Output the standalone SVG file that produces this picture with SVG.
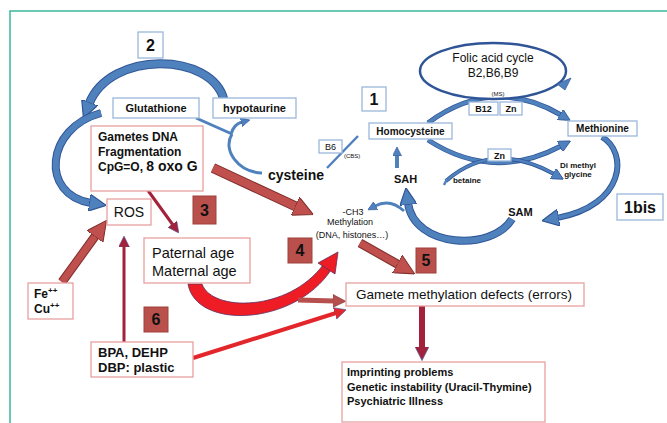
<svg xmlns="http://www.w3.org/2000/svg" width="667" height="423" viewBox="0 0 667 423">
<style>
text{font-family:"Liberation Sans",Arial,sans-serif;fill:#111}
.bb{fill:#fff;stroke:#9ab7da;stroke-width:1.3}
.rb{fill:#fff;stroke:#e8a0a0;stroke-width:1.3}
.nb{fill:#b9504b;stroke:#a0403c;stroke-width:1}
.num{font-size:16px;font-weight:bold;text-anchor:middle}
.c{text-anchor:middle}
.b{font-weight:bold}
.bo{fill:none;stroke:#2f5597;stroke-linecap:butt}
.bi{fill:none;stroke:#4f81bd;stroke-linecap:butt}
.ro{fill:none;stroke:#7e2e2c}
.ri{fill:none;stroke:#c0504d}
</style>
<defs>
<marker id="mbl" viewBox="0 0 10 10" refX="1" refY="5" markerWidth="17" markerHeight="17" markerUnits="userSpaceOnUse" orient="auto"><path d="M0,0 L10,5 L0,10 z" fill="#4f81bd" stroke="#2f5597" stroke-width="0.7"/></marker>
<marker id="mbm" viewBox="0 0 10 10" refX="1" refY="5" markerWidth="12" markerHeight="12" markerUnits="userSpaceOnUse" orient="auto"><path d="M0,0 L10,5 L0,10 z" fill="#4f81bd" stroke="#2f5597" stroke-width="0.7"/></marker>
<marker id="mbs" viewBox="0 0 10 10" refX="1" refY="5" markerWidth="9" markerHeight="9" markerUnits="userSpaceOnUse" orient="auto"><path d="M0,0 L10,5 L0,10 z" fill="#4f81bd" stroke="#2f5597" stroke-width="0.7"/></marker>
<marker id="mrl" viewBox="0 0 10 10" refX="1" refY="5" markerWidth="20" markerHeight="20" markerUnits="userSpaceOnUse" orient="auto"><path d="M0,0 L10,5 L0,10 z" fill="#c0504d" stroke="#7e2e2c" stroke-width="0.5"/></marker>
<marker id="mrm" viewBox="0 0 10 10" refX="1" refY="5" markerWidth="13" markerHeight="13" markerUnits="userSpaceOnUse" orient="auto"><path d="M0,0 L10,5 L0,10 z" fill="#b5504f" stroke="#7e2e2c" stroke-width="0.5"/></marker>
<marker id="mdk" viewBox="0 0 10 10" refX="1" refY="5" markerWidth="11" markerHeight="11" markerUnits="userSpaceOnUse" orient="auto-start-reverse"><path d="M0,0 L10,5 L0,10 z" fill="#a3213a" stroke="#4a5a9a" stroke-width="0.5"/></marker>
<marker id="mdk2" viewBox="0 0 10 10" refX="1" refY="5" markerWidth="14" markerHeight="14" markerUnits="userSpaceOnUse" orient="auto"><path d="M0,0 L10,5 L0,10 z" fill="#a3213a" stroke="#4a5a9a" stroke-width="0.5"/></marker>
<marker id="mbr" viewBox="0 0 10 10" refX="1" refY="5" markerWidth="12" markerHeight="12" markerUnits="userSpaceOnUse" orient="auto"><path d="M0,0 L10,5 L0,10 z" fill="#e3262b" stroke="#4a5a9a" stroke-width="0.5"/></marker>
</defs>

<path d="M10,423 V11 H667" fill="none" stroke="#3bb79b" stroke-width="1.5"/>

<g id="connectors">
  <path class="bo" stroke-width="9" d="M224,100 C212,52 110,50 89,104"/>
  <path class="bi" stroke-width="7" d="M224,100 C212,52 110,50 89,104" marker-end="url(#mbl)"/>
  <path class="bo" stroke-width="8" d="M101,113 C45,128 40,195 91,203"/>
  <path class="bi" stroke-width="6" d="M101,113 C45,128 40,195 91,203" marker-end="url(#mbl)"/>
  <path class="bi" stroke-width="3" d="M196,118 L232,134"/>
  <path class="bi" stroke-width="3" d="M231,134 Q234,124 242,122" marker-end="url(#mbs)"/>
  <path class="bi" stroke-width="3" d="M232,134 C222,150 238,172 262,173"/>
  <path class="bi" stroke-width="2.5" d="M327,168 L358,136"/>
  <path class="bi" stroke-width="4" d="M397,168 L397,155" marker-end="url(#mbs)"/>
  <path class="bo" stroke-width="5" d="M428,123 Q493,75 561,115"/>
  <path class="bi" stroke-width="3.5" d="M428,123 Q493,75 561,115" marker-end="url(#mbm)"/>
  <path class="bo" stroke-width="5" d="M428,140 Q493,182 561,146"/>
  <path class="bi" stroke-width="3.5" d="M428,140 Q493,182 561,146" marker-end="url(#mbm)"/>
  <path class="bo" stroke-width="4" d="M446,181 Q493,140 554,174"/>
  <path class="bi" stroke-width="2.5" d="M446,181 Q493,140 554,174" marker-end="url(#mbm)"/>
  <path class="bi" stroke-width="2.5" d="M444,185 L447,179"/>
  <path class="bo" stroke-width="6" d="M602,137 C628,152 626,205 557,218"/>
  <path class="bi" stroke-width="4" d="M602,137 C628,152 626,205 557,218" marker-end="url(#mbl)"/>
  <path class="bo" stroke-width="8" d="M512,219 C492,252 414,248 408,203"/>
  <path class="bi" stroke-width="6" d="M512,219 C492,252 414,248 408,203" marker-end="url(#mbl)"/>
  <path class="bi" stroke-width="3" d="M404,211 Q390,198 375,206" marker-end="url(#mbs)"/>

  <path class="ro" stroke-width="10" d="M213,168 L297,207"/>
  <path class="ri" stroke-width="8" d="M213,168 L297,207" marker-end="url(#mrl)"/>
  <path fill="none" stroke="#a3213a" stroke-width="3" d="M144,185 L173,225" marker-start="url(#mdk)" marker-end="url(#mdk)"/>
  <path class="ro" stroke-width="9" d="M62,282 L96,235"/>
  <path class="ri" stroke-width="7" d="M62,282 L96,235" marker-end="url(#mrl)"/>
  <path fill="none" stroke="#a3213a" stroke-width="3" d="M124,342 L124,246" marker-end="url(#mdk)"/>
  <path fill="none" stroke="#e3262b" stroke-width="4" d="M193,358 L336,313" marker-end="url(#mbr)"/>
  <path d="M188,284 C196,330 294,326 331,270 L323,265 C288,312 212,312 202,284 Z" fill="#ee1c24" stroke="#5a3060" stroke-width="0.8"/>
  <polygon points="318,263 338,252 335,274" fill="#ee1c24" stroke="#5a3060" stroke-width="0.8"/>
  <path fill="none" stroke="#b5504f" stroke-width="5" d="M298,300 L334,301" marker-end="url(#mrm)"/>
  <path class="ro" stroke-width="9" d="M360,243 L399,265"/>
  <path class="ri" stroke-width="7" d="M360,243 L399,265" marker-end="url(#mrl)"/>
  <path fill="none" stroke="#a3213a" stroke-width="6" d="M422,306 L422,348" marker-end="url(#mdk2)"/>
</g>

<g id="n2"><rect class="bb" x="138" y="32" width="25" height="26"/><text class="num" x="150.5" y="51">2</text></g>
<g id="glutathione"><rect class="bb" x="113" y="98" width="86" height="20"/><text class="c b" x="156" y="112" font-size="11">Glutathione</text></g>
<g id="hypotaurine"><rect class="bb" x="213" y="98" width="83" height="20"/><text class="c b" x="254.5" y="112" font-size="11">hypotaurine</text></g>
<g id="gametes-dna"><rect class="rb" x="91" y="126" width="112" height="65"/>
  <text class="b" font-size="12" x="98" y="141">Gametes  DNA</text>
  <text class="b" font-size="12" x="98" y="156">Fragmentation</text>
  <text class="b" font-size="12" x="98" y="171">CpG=O, <tspan font-size="14">8 oxo G</tspan></text></g>
<g id="ros"><rect class="rb" x="107" y="199" width="44" height="26"/><text class="c" x="129" y="217" font-size="14">ROS</text></g>
<g id="n3"><rect class="nb" x="193" y="196" width="23" height="28"/><text class="num" x="204.5" y="216" font-size="15">3</text></g>
<g id="age"><rect class="rb" x="144" y="238" width="106" height="45"/>
  <text x="152" y="258" font-size="14.5" fill="#333">Paternal age</text>
  <text x="152" y="276" font-size="14.5" fill="#333">Maternal age</text></g>
<g id="n4"><rect class="nb" x="288" y="238" width="24" height="25"/><text class="num" x="300" y="256" font-size="15">4</text></g>
<g id="fecu"><rect class="rb" x="28" y="283" width="45" height="36"/>
  <text class="b" x="34" y="298" font-size="12">Fe<tspan font-size="8" dy="-5">++</tspan></text>
  <text class="b" x="34" y="313" font-size="12">Cu<tspan font-size="8" dy="-5">++</tspan></text></g>
<g id="n6"><rect class="nb" x="144" y="307" width="24" height="25"/><text class="num" x="156" y="325" font-size="15">6</text></g>
<g id="bpa"><rect class="rb" x="91" y="342" width="102" height="35"/>
  <text class="b" x="98" y="357" font-size="13">BPA, DEHP</text>
  <text class="b" x="98" y="372" font-size="13">DBP: plastic</text></g>
<g id="n5"><rect class="nb" x="416" y="248" width="20" height="25"/><text class="num" x="426" y="266" font-size="15">5</text></g>
<g id="gamete-methylation"><rect class="rb" x="346" y="283" width="238" height="23"/><text class="c" x="464" y="299" font-size="13.5" fill="#444">Gamete methylation defects (errors)</text></g>
<g id="outcomes"><rect class="rb" x="342" y="362" width="203" height="60"/>
  <text x="347" y="376" font-size="11" font-weight="600" fill="#222">Imprinting problems</text>
  <text x="347" y="391" font-size="11" font-weight="600" fill="#222">Genetic instability (Uracil-Thymine)</text>
  <text x="347" y="405" font-size="11" font-weight="600" fill="#222">Psychiatric Illness</text></g>
<g id="n1bis"><rect class="bb" x="617" y="194" width="46" height="26"/><text class="num" x="640" y="213">1bis</text></g>
<g id="n1"><rect class="bb" x="362" y="87" width="24" height="24"/><text class="num" x="374" y="105">1</text></g>
<g id="folic"><ellipse cx="493" cy="71" rx="73" ry="28" fill="#fff" stroke="#2f5597" stroke-width="2.5"/>
  <polygon points="557,84 571,78 565,90" fill="#4f81bd" stroke="#2f5597" stroke-width="0.7"/>
  <text class="c" x="493" y="62" font-size="12" fill="#333">Folic acid cycle</text>
  <text class="c" x="493" y="77" font-size="12" fill="#333">B2,B6,B9</text></g>
<g id="ms"><text class="c" x="498" y="96" font-size="6" fill="#666">(MS)</text></g>
<g id="b12"><rect class="bb" x="469" y="102" width="29" height="13"/><text class="c b" x="483.5" y="112" font-size="9" fill="#333">B12</text></g>
<g id="zn1"><rect class="bb" x="500" y="102" width="22" height="13"/><text class="c b" x="511" y="112" font-size="9" fill="#333">Zn</text></g>
<g id="homocysteine"><rect class="bb" x="369" y="123" width="83" height="16"/><text class="c b" x="410.5" y="135" font-size="10" fill="#333">Homocysteine</text></g>
<g id="methionine"><rect class="bb" x="568" y="121" width="69" height="15"/><text class="c b" x="602.5" y="132" font-size="10" fill="#333">Methionine</text></g>
<g id="zn2"><rect class="bb" x="488" y="149" width="23" height="12"/><text class="c b" x="499.5" y="159" font-size="9" fill="#333">Zn</text></g>
<g id="dmg"><text class="c b" x="578" y="168" font-size="8" fill="#333">Di methyl</text><text class="c b" x="578" y="177" font-size="8" fill="#333">glycine</text></g>
<g id="betaine"><text class="c b" x="467" y="183" font-size="8" fill="#333">betaine</text></g>
<g id="sah"><text class="c b" x="405.5" y="183" font-size="11" fill="#333">SAH</text></g>
<g id="sam"><text class="c b" x="520.5" y="216" font-size="11" fill="#333">SAM</text></g>
<g id="b6"><rect class="bb" x="319" y="140" width="23" height="13"/><text class="c" x="330.5" y="150" font-size="9" fill="#556">B6</text></g>
<g id="cbs"><text x="344" y="158" font-size="6" fill="#666">(CBS)</text></g>
<g id="cysteine"><text class="b" x="268" y="180" font-size="14">cysteine</text></g>
<g id="methylation"><text class="c" x="353" y="215" font-size="9" fill="#333">-CH3</text>
  <text class="c" x="350" y="225" font-size="9" fill="#333">Methylation</text>
  <text class="c" x="352" y="238" font-size="9" fill="#333">(DNA, histones…)</text></g>
</svg>
